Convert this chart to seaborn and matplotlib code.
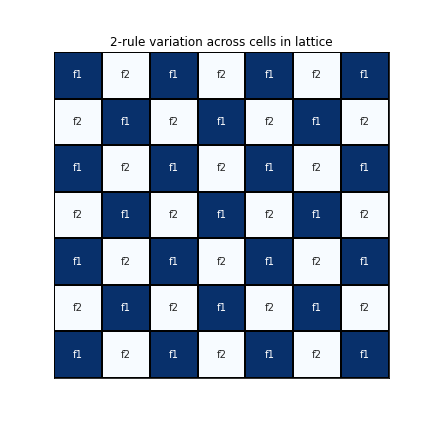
import numpy as np
import pandas as pd
import matplotlib
matplotlib.use("Agg")
import matplotlib.pyplot as plt
import seaborn as sns

# lattice of rules: 1 -> f1, 2 -> f2
rules = [
    [1, 2, 1, 2, 1, 2, 1],
    [2, 1, 2, 1, 2, 1, 2],
    [1, 2, 1, 2, 1, 2, 1],
    [2, 1, 2, 1, 2, 1, 2],
    [1, 2, 1, 2, 1, 2, 1],
    [2, 1, 2, 1, 2, 1, 2],
    [1, 2, 1, 2, 1, 2, 1],
]
rule_names = {1: "f1", 2: "f2"}

grid = np.array(rules)
labels = np.vectorize(rule_names.get)(grid)
# f1 dark, f2 light
shade = (grid == 1).astype(float)

fig = plt.figure(figsize=(6, 6), dpi=72)
ax = fig.add_axes([54 / 432, 54 / 432, 335 / 432, 326 / 432])
sns.heatmap(shade, annot=labels, fmt="", cmap="Blues", cbar=False,
            linewidths=1.5, linecolor="black", annot_kws={"fontsize": 10},
            xticklabels=False, yticklabels=False, ax=ax)
for s in ax.spines.values():
    s.set_visible(True)
    s.set_color("black")
ax.set_title("2-rule variation across cells in lattice", fontsize=12)
fig.savefig("out.png", dpi=72)
